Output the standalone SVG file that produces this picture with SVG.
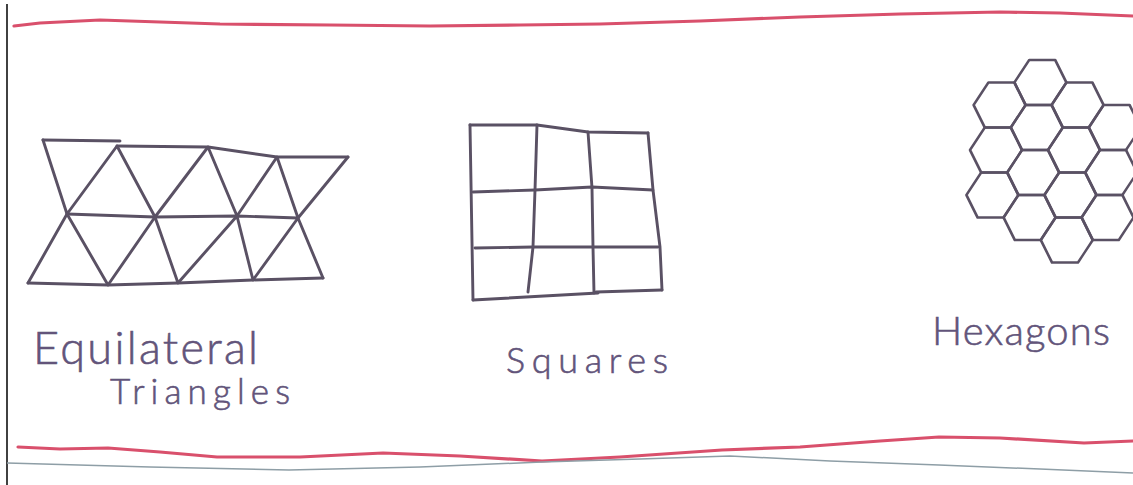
<svg xmlns="http://www.w3.org/2000/svg" xmlns:xlink="http://www.w3.org/1999/xlink" width="1133" height="485" viewBox="0 0 1133 485">
<style>
.pen{fill:none;stroke:#5a5164;stroke-width:2.9;stroke-linecap:round;stroke-linejoin:round}
.hex{fill:none;stroke:#5a5164;stroke-width:2.5;stroke-linejoin:round}
.red{fill:none;stroke:#d9506c;stroke-width:3.2;stroke-linecap:round;stroke-linejoin:round}
.lbl{font-family:Lato,"Open Sans","Liberation Sans",sans-serif;font-weight:300;fill:#62547a;stroke:#62547a;stroke-width:0.6}
</style>
<defs>
<polygon id="hx" points="-26,0 -13,-22.5 13,-22.5 26,0 13,22.5 -13,22.5"/>
</defs>
<rect width="1133" height="485" fill="#ffffff"/>
<line x1="7" y1="4" x2="7" y2="485" stroke="#111" stroke-width="1.6"/>
<path class="red" d="M14,26 L40,23 L100,20 L160,22 L220,24 L330,25 L430,26 L520,25 L600,24 L700,21 L800,17 L900,14 L1000,12 L1060,13 L1133,16"/>
<path class="red" d="M18,447 L60,449 L108,448 L160,452 L217,457 L300,457 L383,453 L460,456 L542,461 L620,457 L722,450 L800,447 L880,441 L939,437 L1000,438 L1084,443 L1133,441"/>
<path d="M7,463 L150,467 L289,470 L420,467 L542,462 L640,459 L730,456 L830,461 L939,465 L1040,469 L1133,473" fill="none" stroke="#8e9ea6" stroke-width="1.5"/>

<g id="triangles" class="pen">
<path d="M43,140 L120,141"/>
<path d="M117,146 L208,147 L277,157 L348,157"/>
<path d="M67,214 L155,217 L237,216 L298,218"/>
<path d="M28,283 L108,285 L178,283 L253,280 L323,278"/>
<path d="M43,140 L67,214 L117,146 L155,217 L208,147 L237,216 L277,157 L298,218 L348,157"/>
<path d="M28,283 L67,214 L108,285 L155,217 L178,283 L237,216 L253,280 L298,218 L323,278"/>
</g>

<g id="squares" class="pen">
<path d="M470,125 L537,125 L588,132 L648,133"/>
<path d="M470,125 L473,300"/>
<path d="M648,133 L653,190 L660,247 L662,290"/>
<path d="M473,300 L598,293"/>
<path d="M596,292 L662,290"/>
<path d="M537,125 L535,190 L533,247 L528,292"/>
<path d="M588,132 L592,188 L593,247 L594,293"/>
<path d="M473,192 L535,190 L592,187 L653,190"/>
<path d="M475,248 L533,247 L593,247 L658,247"/>
</g>

<g id="hexagons" transform="matrix(1 0 -0.08 1 13 0)">
<use xlink:href="#hx" href="#hx" class="hex" x="995" y="105"/>
<use xlink:href="#hx" href="#hx" class="hex" x="995" y="150"/>
<use xlink:href="#hx" href="#hx" class="hex" x="995" y="195"/>
<use xlink:href="#hx" href="#hx" class="hex" x="1034" y="82.5"/>
<use xlink:href="#hx" href="#hx" class="hex" x="1034" y="127.5"/>
<use xlink:href="#hx" href="#hx" class="hex" x="1034" y="172.5"/>
<use xlink:href="#hx" href="#hx" class="hex" x="1034" y="217.5"/>
<use xlink:href="#hx" href="#hx" class="hex" x="1073" y="105"/>
<use xlink:href="#hx" href="#hx" class="hex" x="1073" y="150"/>
<use xlink:href="#hx" href="#hx" class="hex" x="1073" y="195"/>
<use xlink:href="#hx" href="#hx" class="hex" x="1073" y="240"/>
<use xlink:href="#hx" href="#hx" class="hex" x="1112" y="127.5"/>
<use xlink:href="#hx" href="#hx" class="hex" x="1112" y="172.5"/>
<use xlink:href="#hx" href="#hx" class="hex" x="1112" y="217.5"/>
</g>

<g id="labels">
<text class="lbl" x="33" y="364" font-size="45" textLength="225" lengthAdjust="spacing">Equilateral</text>
<text class="lbl" x="110" y="404" font-size="35" textLength="180" lengthAdjust="spacing">Triangles</text>
<text class="lbl" x="506" y="373" font-size="36" textLength="162" lengthAdjust="spacing">Squares</text>
<text class="lbl" x="932" y="345" font-size="40" textLength="178" lengthAdjust="spacing">Hexagons</text>
</g>
</svg>
